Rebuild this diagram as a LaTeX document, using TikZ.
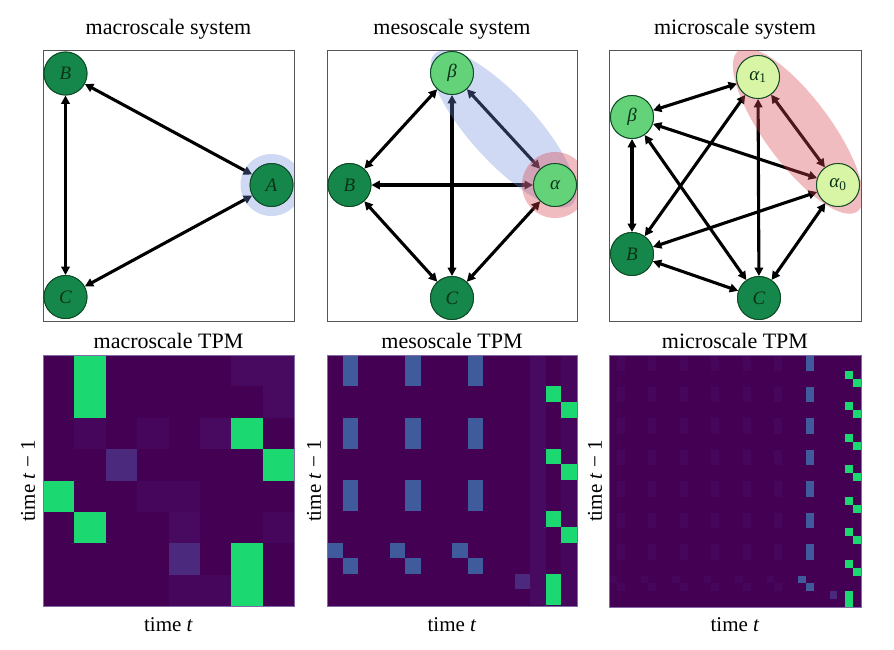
\documentclass[tikz,border=0pt]{standalone}
\usepackage{fontspec}
\setmainfont{Liberation Serif}
\usetikzlibrary{arrows.meta}
\definecolor{dkg}{HTML}{16874A}
\definecolor{ltg}{HTML}{64D278}
\definecolor{plg}{HTML}{D7F5A5}
\definecolor{nbord}{HTML}{0C4A24}
\definecolor{ntext}{HTML}{0A3318}
\definecolor{bgp}{HTML}{440154}
\definecolor{bgq}{HTML}{46065B}
\definecolor{bgr}{HTML}{470A60}
\definecolor{lpp}{HTML}{4B2A7E}
\definecolor{grn}{HTML}{1CD870}
\definecolor{blu}{HTML}{3F5B9B}
\definecolor{haloblue}{HTML}{6E8CDC}
\definecolor{halored}{HTML}{D9454D}
\definecolor{frm}{HTML}{555555}
\begin{document}
\begin{tikzpicture}[x=1pt,y=-1pt,
  vtx/.style={circle,draw=nbord,line width=0.9pt,minimum size=43pt,inner sep=0pt,
    font=\fontsize{19}{22}\selectfont\itshape,text=ntext},
  dk/.style={vtx,fill=dkg},
  lt/.style={vtx,fill=ltg},
  pl/.style={vtx,fill=plg},
  edge/.style={line width=3.1pt,{Triangle[length=8.5pt,width=8.5pt]}-{Triangle[length=8.5pt,width=8.5pt]}},
  ttl/.style={font=\fontsize{22}{26}\selectfont},
  axl/.style={font=\fontsize{21}{25}\selectfont},
  frame/.style={draw=frm,line width=0.8pt},
  tpmframe/.style={draw=lpp!70!white,line width=0.5pt}]
\useasboundingbox (0,0) rectangle (894,649);

% ---------- titles ----------
\node[ttl] (t1) at (168.5,29) {macroscale system};
\node[ttl] (t2) at (452,29) {mesoscale system};
\node[ttl] (t3) at (735,29) {microscale system};
\node[ttl] (t4) at (168.5,341) {macroscale TPM};
\node[ttl] (t5) at (452,341) {mesoscale TPM};
\node[ttl] (t6) at (735,341) {microscale TPM};

% ---------- frames ----------
\draw[frame] (43,50) rectangle (294,321);
\draw[frame] (327,50) rectangle (577,321);
\draw[frame] (609,50) rectangle (861,321);

% ---------- node coordinates ----------
\coordinate (pB1) at (65.5,73.5);
\coordinate (pC1) at (65.5,297);
\coordinate (pA1) at (271.5,185);
\coordinate (pb2) at (452,73);
\coordinate (pB2) at (349.5,185);
\coordinate (pa2) at (555,185);
\coordinate (pC2) at (452,298);
\coordinate (pa1) at (758,77);
\coordinate (pbe3) at (632,117);
\coordinate (pa0) at (838,185);
\coordinate (pB3) at (632,254);
\coordinate (pC3) at (759,298);

% ---------- nodes (first pass, for edge anchors) ----------
\node[dk] (B1) at (pB1) {B};
\node[dk] (C1) at (pC1) {C};
\node[dk] (A1) at (pA1) {A};
\node[lt] (b2) at (pb2) {β};
\node[dk] (B2) at (pB2) {B};
\node[lt] (a2) at (pa2) {α};
\node[dk] (C2) at (pC2) {C};
\node[pl] (a1) at (pa1) {α\textsubscript{\upshape 1}};
\node[lt] (be3) at (pbe3) {β};
\node[pl] (a0) at (pa0) {α\textsubscript{\upshape 0}};
\node[dk] (B3) at (pB3) {B};
\node[dk] (C3) at (pC3) {C};

% ---------- edges ----------
\draw[edge] (B1) -- (A1);
\draw[edge] (C1) -- (A1);
\draw[edge] (B1) -- (C1);

\draw[edge] (b2) -- (B2);
\draw[edge] (b2) -- (C2);
\draw[edge] (b2) -- (a2);
\draw[edge] (B2) -- (a2);
\draw[edge] (B2) -- (C2);
\draw[edge] (C2) -- (a2);

\draw[edge] (a1) -- (be3);
\draw[edge] (a1) -- (B3);
\draw[edge] (a1) -- (C3);
\draw[edge] (a1) -- (a0);
\draw[edge] (be3) -- (a0);
\draw[edge] (be3) -- (C3);
\draw[edge] (be3) -- (B3);
\draw[edge] (B3) -- (a0);
\draw[edge] (B3) -- (C3);
\draw[edge] (C3) -- (a0);

% ---------- halos ----------
\begin{scope}
\clip (43,50) rectangle (294,321);
\fill[haloblue,fill opacity=0.33] (pA1) circle[radius=31];
\end{scope}
\begin{scope}
\clip (327,50) rectangle (577,321);
\fill[haloblue,fill opacity=0.33,rotate around={-47.6:(503.5,129)}] (503.5,129) ellipse[x radius=102,y radius=33];
\fill[halored,fill opacity=0.36] (pa2) circle[radius=33];
\end{scope}
\begin{scope}
\clip (609,50) rectangle (861,321);
\fill[halored,fill opacity=0.36,rotate around={-53.5:(798,131)}] (798,131) ellipse[x radius=100,y radius=33];
\end{scope}

% ---------- nodes redrawn on top ----------
\node[dk] at (pB1) {B};
\node[dk] at (pC1) {C};
\node[dk] at (pA1) {A};
\node[lt] at (pb2) {β};
\node[dk] at (pB2) {B};
\node[lt] at (pa2) {α};
\node[dk] at (pC2) {C};
\node[pl] at (pa1) {α\textsubscript{\upshape 1}};
\node[lt] at (pbe3) {β};
\node[pl] at (pa0) {α\textsubscript{\upshape 0}};
\node[dk] at (pB3) {B};
\node[dk] at (pC3) {C};

% ---------- macroscale TPM (8x8) ----------
\fill[bgp] (43,355) rectangle (294,606);
\foreach \c/\r in {1/2,3/2,3/4,4/4,5/7,4/7,7/5}
  \fill[bgq] ({43+\c*31.375},{355+\r*31.375}) rectangle ++(31.375,31.375);
\foreach \c/\r in {6/0,7/0,7/1,5/2,4/5}
  \fill[bgr] ({43+\c*31.375},{355+\r*31.375}) rectangle ++(31.375,31.375);
\foreach \c/\r in {2/3,4/6}
  \fill[lpp] ({43+\c*31.375},{355+\r*31.375}) rectangle ++(31.375,31.375);
\foreach \c/\r in {1/0,1/1,6/2,7/3,0/4,1/5,6/6,6/7}
  \fill[grn] ({43+\c*31.375},{355+\r*31.375}) rectangle ++(31.375,31.375);
\draw[tpmframe] (43,355) rectangle (294,606);

% ---------- mesoscale TPM (16x16) ----------
\fill[bgp] (327,355) rectangle (577,606);
\fill[bgr] ({327+13*15.625},355) rectangle ++(15.625,250);
\fill[bgq] ({327+15*15.625},355) rectangle ++(15.625,250);
\foreach \k in {0,1,2}{
  \foreach \c in {1,5,9}
    \fill[blu] ({327+\c*15.625},{355+\k*62.5}) rectangle ++(15.625,31.25);
  \fill[grn] ({327+14*15.625},{355+(4*\k+2)*15.625}) rectangle ++(15.625,15.625);
  \fill[grn] ({327+15*15.625},{355+(4*\k+3)*15.625}) rectangle ++(15.625,15.625);
}
\foreach \c in {0,4,8}
  \fill[blu] ({327+\c*15.625},{355+12*15.625}) rectangle ++(15.625,15.625);
\foreach \c in {1,5,9}
  \fill[blu] ({327+\c*15.625},{355+13*15.625}) rectangle ++(15.625,15.625);
\fill[lpp] ({327+12*15.625},{355+14*15.625}) rectangle ++(15.625,15.625);
\fill[grn] ({327+14*15.625},{355+14*15.625}) rectangle ++(15.625,31.25);
\draw[tpmframe] (327,355) rectangle (577,606);

% ---------- microscale TPM (32x32) ----------
\fill[bgp] (609,355) rectangle (861,607);
\foreach \k in {0,...,6}{
  \foreach \c in {1,5,9,13,17,21}
    \fill[bgq] ({609+\c*7.875},{355+\k*31.5}) rectangle ++(7.875,15.75);
  \fill[blu] ({609+25*7.875},{355+\k*31.5}) rectangle ++(7.875,15.75);
  \fill[grn] ({609+30*7.875},{355+(4*\k+2)*7.875}) rectangle ++(7.875,7.875);
  \fill[grn] ({609+31*7.875},{355+(4*\k+3)*7.875}) rectangle ++(7.875,7.875);
}
\foreach \c in {0,4,8,12,16,20}
  \fill[bgq] ({609+\c*7.875},{355+28*7.875}) rectangle ++(7.875,7.875);
\foreach \c in {1,5,9,13,17,21}
  \fill[bgq] ({609+\c*7.875},{355+29*7.875}) rectangle ++(7.875,7.875);
\fill[blu] ({609+24*7.875},{355+28*7.875}) rectangle ++(7.875,7.875);
\fill[blu] ({609+25*7.875},{355+29*7.875}) rectangle ++(7.875,7.875);
\fill[lpp] ({609+28*7.875},{355+30*7.875}) rectangle ++(7.875,7.875);
\fill[grn] ({609+30*7.875},{355+30*7.875}) rectangle ++(7.875,15.75);
\draw[tpmframe] (609,355) rectangle (861,607);

% ---------- axis labels ----------
\node[axl] (x1) at (168.5,625) {time \textit{t}};
\node[axl] (x2) at (452,625) {time \textit{t}};
\node[axl] (x3) at (735,625) {time \textit{t}};
\node[axl,rotate=90] (y1) at (28,481) {time \textit{t} − 1};
\node[axl,rotate=90] (y2) at (314,481) {time \textit{t} − 1};
\node[axl,rotate=90] (y3) at (595,481) {time \textit{t} − 1};
\end{tikzpicture}
\end{document}
